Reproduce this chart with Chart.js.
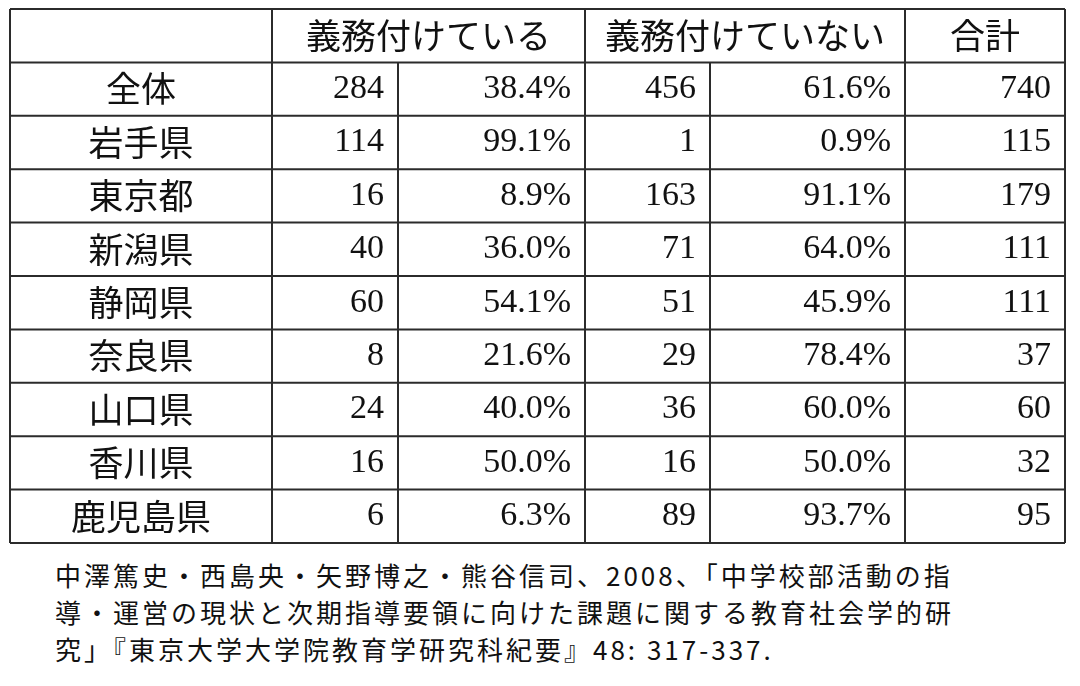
<!DOCTYPE html>
<html><head><meta charset="utf-8">
<script src="https://cdn.jsdelivr.net/npm/chart.js@4/dist/chart.umd.min.js"></script>
<style>
html,body{margin:0;padding:0;background:#fff;width:1080px;height:686px;overflow:hidden}
#wrap{position:absolute;left:0;top:0;width:1080px;height:552px}
#cap{position:absolute;left:55px;top:556px;font-family:"Noto Sans CJK JP","DejaVu Sans Mono",monospace;font-size:26px;line-height:37px;color:#111;letter-spacing:3px}
</style></head><body>
<div id="wrap"><canvas id="c"></canvas></div>
<div id="cap">中澤篤史・西島央・矢野博之・熊谷信司、2008、「中学校部活動の指<br>導・運営の現状と次期指導要領に向けた課題に関する教育社会学的研<br>究」『東京大学大学院教育学研究科紀要』48: 317-337.</div>
<script>
const headers = ["", "義務付けている", "義務付けていない", "合計"];
const regions = ["全体","岩手県","東京都","新潟県","静岡県","奈良県","山口県","香川県","鹿児島県"];
const mandatedCount = [284,114,16,40,60,8,24,16,6];
const mandatedPct = ["38.4%","99.1%","8.9%","36.0%","54.1%","21.6%","40.0%","50.0%","6.3%"];
const notCount = [456,1,163,71,51,29,36,16,89];
const notPct = ["61.6%","0.9%","91.1%","64.0%","45.9%","78.4%","60.0%","50.0%","93.7%"];
const totals = [740,115,179,111,111,37,60,32,95];

const colWidths = [262,126,187,125,195,160];
const edges = [0]; colWidths.forEach(w=>edges.push(edges[edges.length-1]+w));
const rowLabels = ["header", ...regions];

const tablePlugin = {
  id:'table',
  afterDraw(chart){
    const ctx = chart.ctx, xs = chart.scales.x, ys = chart.scales.y;
    const X = v => xs.getPixelForValue(v);
    const step = ys.getPixelForValue(1) - ys.getPixelForValue(0);
    const rowTop = i => ys.getPixelForValue(i) - step/2;
    const n = rowLabels.length;
    ctx.save();
    ctx.strokeStyle = '#2b2b2b'; ctx.lineWidth = 2;
    for(let i=0;i<=n;i++){ const y=rowTop(i); ctx.beginPath(); ctx.moveTo(X(0),y); ctx.lineTo(X(edges[6]),y); ctx.stroke(); }
    edges.forEach((e,k)=>{
      const merged = (k===2||k===4);
      ctx.beginPath(); ctx.moveTo(X(e), merged? rowTop(1): rowTop(0)); ctx.lineTo(X(e), rowTop(n)); ctx.stroke();
    });
    ctx.fillStyle='#111'; ctx.textBaseline='middle';
    const cjk = '35px "Noto Sans CJK JP",sans-serif';
    const num = '34px "Liberation Serif",serif';
    const hy = ys.getPixelForValue(0);
    ctx.font = cjk; ctx.textAlign='center';
    ctx.fillText(headers[1], (X(edges[1])+X(edges[3]))/2, hy);
    ctx.fillText(headers[2], (X(edges[3])+X(edges[5]))/2, hy);
    ctx.fillText(headers[3], (X(edges[5])+X(edges[6]))/2, hy);
    regions.forEach((r,i)=>{
      const y = ys.getPixelForValue(i+1);
      ctx.font = cjk; ctx.textAlign='center';
      ctx.fillText(r,(X(edges[0])+X(edges[1]))/2,y);
      ctx.font = num; ctx.textAlign='right';
      const vals=[mandatedCount[i],mandatedPct[i],notCount[i],notPct[i],totals[i]];
      vals.forEach((v,k)=>ctx.fillText(String(v), X(edges[k+2])-14, y));
    });
    ctx.restore();
  }
};

new Chart(document.getElementById('c'),{
  type:'scatter',
  data:{labels:rowLabels,datasets:[{data:[]}]},
  options:{
    responsive:true,maintainAspectRatio:false,animation:false,
    layout:{padding:{left:10,right:15,top:9,bottom:9}},
    plugins:{legend:{display:false},tooltip:{enabled:false}},
    scales:{
      x:{type:'linear',min:0,max:edges[6],display:false},
      y:{type:'category',labels:rowLabels,offset:true,display:false}
    }
  },
  plugins:[tablePlugin]
});
</script>
</body></html>
